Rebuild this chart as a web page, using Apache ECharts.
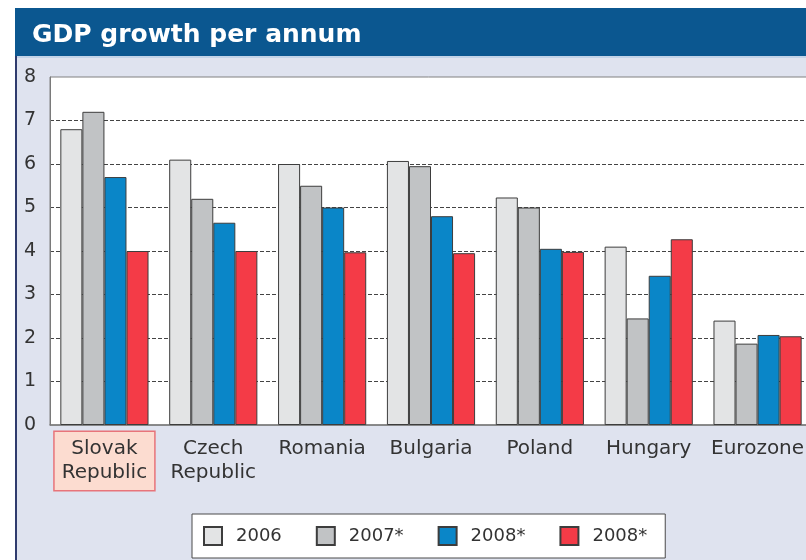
<!DOCTYPE html>
<html>
<head>
<meta charset="utf-8">
<script src="https://cdn.jsdelivr.net/npm/echarts@6/dist/echarts.min.js"></script>
<style>
  html, body { margin: 0; padding: 0; background: #ffffff; }
  #chart { width: 806px; height: 560px; }
</style>
</head>
<body>
<div id="chart"></div>
<script>
// GDP growth per annum (%), by country and year
const categories = ['Slovak\nRepublic', 'Czech\nRepublic', 'Romania', 'Bulgaria', 'Poland', 'Hungary', 'Eurozone'];
const seriesKeys = ['y2006', 'y2007', 'y2008a', 'y2008b'];
const seriesLabels = ['2006', '2007*', '2008*', '2008*'];
const values2006 = [6.8, 6.1, 6.0, 6.07, 5.23, 4.1, 2.4];
const values2007 = [7.2, 5.2, 5.5, 5.95, 5.0, 2.45, 1.87];
const values2008a = [5.7, 4.65, 5.0, 4.8, 4.05, 3.43, 2.07];
const values2008b = [4.0, 4.0, 3.97, 3.95, 3.98, 4.27, 2.04];
const yTicks = [0, 1, 2, 3, 4, 5, 6, 7, 8];

const seriesValues = [values2006, values2007, values2008a, values2008b];
const seriesColors = ['#e3e4e5', '#c1c3c5', '#0a86c8', '#f43b47'];
const FONT = '"DejaVu Sans", sans-serif';
const TEXT = '#333333';

const chart = echarts.init(document.getElementById('chart'), null, { renderer: 'canvas' });

const labelOf = {};
seriesKeys.forEach((k, i) => { labelOf[k] = seriesLabels[i]; });

const option = {
  backgroundColor: '#ffffff',
  animation: false,
  graphic: [
    // panel background
    { type: 'rect', z: -10, shape: { x: 15, y: 8, width: 791, height: 552 }, style: { fill: '#dfe3ef' } },
    // title bar
    { type: 'rect', z: -9, shape: { x: 15, y: 8, width: 791, height: 48 }, style: { fill: '#0b5790' } },
    { type: 'rect', z: -9, shape: { x: 15, y: 56, width: 791, height: 2 }, style: { fill: '#c3d3e8' } },
    // left panel border
    { type: 'rect', z: -8, shape: { x: 15, y: 56, width: 2, height: 504 }, style: { fill: '#2f3b6e' } },
    {
      type: 'text', z: 10, left: 32, top: 23,
      style: { text: 'GDP growth per annum', fill: '#ffffff', font: 'bold 25px ' + FONT }
    }
  ],
  grid: {
    show: true,
    outerBoundsMode: 'none',
    containLabel: false,
    left: 50, top: 77, width: 762, height: 348,
    backgroundColor: '#ffffff',
    borderColor: '#808080',
    borderWidth: 1
  },
  legend: {
    left: 192, top: 514,
    orient: 'horizontal',
    backgroundColor: '#ffffff',
    borderColor: '#4a4a4a',
    borderWidth: 1,
    padding: [12, 18, 12, 11],
    itemWidth: 18, itemHeight: 18,
    itemGap: 34,
    icon: 'rect',
    selectedMode: false,
    data: seriesKeys,
    formatter: name => '{s|}{t|' + labelOf[name] + '}',
    textStyle: {
      rich: {
        s: { width: 9 },
        t: { fontFamily: FONT, fontSize: 18, color: TEXT }
      }
    }
  },
  xAxis: {
    type: 'category',
    data: categories.map((c, i) => i === 0 ? {
      value: c,
      textStyle: { backgroundColor: '#fcdcd0', borderColor: '#e8747a', borderWidth: 1.5 }
    } : c),
    axisTick: { show: false },
    axisLine: { show: true, lineStyle: { color: '#7a7a7a', width: 1.5 } },
    axisLabel: {
      interval: 0,
      margin: 7,
      fontFamily: FONT,
      fontSize: 20,
      color: TEXT,
      lineHeight: 24,
      padding: [5, 7, 5, 7]
    }
  },
  yAxis: {
    type: 'value',
    min: yTicks[0],
    max: yTicks[yTicks.length - 1],
    interval: 1,
    axisLine: { show: true, lineStyle: { color: '#7a7a7a', width: 1 } },
    axisTick: { show: false },
    axisLabel: { fontFamily: FONT, fontSize: 19, color: TEXT, margin: 14 },
    splitLine: {
      show: true,
      showMinLine: false,
      showMaxLine: false,
      lineStyle: { color: '#444444', type: [4, 2], width: 1.2 }
    }
  },
  series: seriesKeys.map((k, i) => ({
    name: k,
    type: 'bar',
    data: seriesValues[i],
    barGap: '0%',
    barCategoryGap: '19%',
    itemStyle: { color: seriesColors[i], borderColor: '#3d3d3d', borderWidth: 1 }
  }))
};

chart.setOption(option);
</script>
</body>
</html>
